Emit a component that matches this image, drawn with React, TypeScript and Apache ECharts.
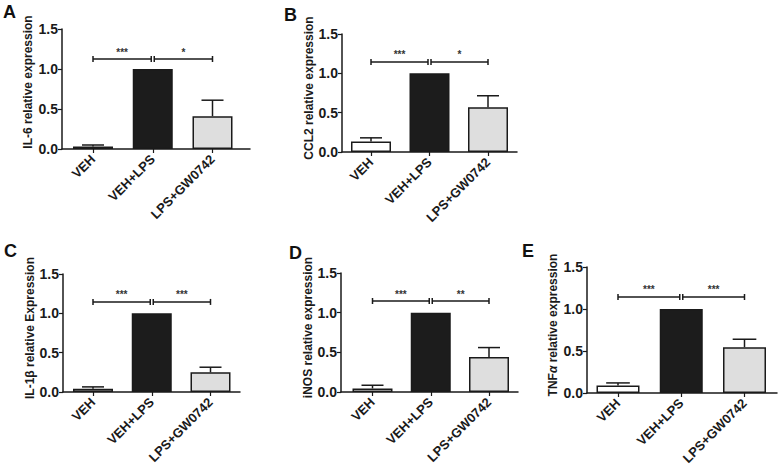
import React, { useEffect, useRef } from "react";
import * as echarts from "echarts";

// ---- data ----
const categories = ["VEH", "VEH+LPS", "LPS+GW0742"];

const il6Means = [0.03, 1.0, 0.41];
const il6Errors = [0.02, 0, 0.2];
const ccl2Means = [0.135, 1.0, 0.57];
const ccl2Errors = [0.045, 0, 0.145];
const il1bMeans = [0.04, 1.0, 0.25];
const il1bErrors = [0.025, 0, 0.065];
const inosMeans = [0.045, 1.0, 0.44];
const inosErrors = [0.04, 0, 0.12];
const tnfMeans = [0.09, 1.0, 0.545];
const tnfErrors = [0.03, 0, 0.095];

const il6Sig = ["***", "*"];
const ccl2Sig = ["***", "*"];
const il1bSig = ["***", "***"];
const inosSig = ["***", "**"];
const tnfSig = ["***", "***"];

const bracketLevels = [1.125, 1.145, 1.145, 1.147, 1.143];

const panelLetters = ["A", "B", "C", "D", "E"];
const panelTitles = [
  "IL-6 relative expression",
  "CCL2 relative expression",
  "IL-1β relative Expression",
  "iNOS relative expression",
  "TNF{i|α} relative expression",
];

const panelMeans = [il6Means, ccl2Means, il1bMeans, inosMeans, tnfMeans];
const panelErrors = [il6Errors, ccl2Errors, il1bErrors, inosErrors, tnfErrors];
const panelSig = [il6Sig, ccl2Sig, il1bSig, inosSig, tnfSig];

// ---- layout (pixels) ----
const layouts = [
  { axisX: 62, top: 29, bottom: 149, c0: 93, c2: 212.5, end: 250, barW: 40, letterX: 3, letterY: 3, nameGap: 28, namePad: 14 },
  { axisX: 342, top: 34, bottom: 152, c0: 371, c2: 488, end: 517, barW: 40, letterX: 284, letterY: 6, nameGap: 24, namePad: 10 },
  { axisX: 63, top: 274, bottom: 392, c0: 93, c2: 210.5, end: 240, barW: 40, letterX: 4, letterY: 242, nameGap: 25, namePad: 10 },
  { axisX: 341, top: 273, bottom: 392, c0: 372.5, c2: 489, end: 518, barW: 40, letterX: 289, letterY: 244, nameGap: 24, namePad: 10 },
  { axisX: 587, top: 267, bottom: 393, c0: 618, c2: 744.5, end: 777, barW: 43, letterX: 522, letterY: 242, nameGap: 28, namePad: 10 },
];

const barColors = ["#ffffff", "#1c1c1c", "#dedede"];
const FONT = "'Liberation Sans', Arial, Helvetica, sans-serif";
const INK = "#1a1a1a";

export default function App() {
  const ref = useRef<HTMLDivElement>(null);

  useEffect(() => {
    if (!ref.current) return;
    const chart = echarts.init(ref.current, undefined, { renderer: "svg" });

    const grids: any[] = [];
    const xAxes: any[] = [];
    const yAxes: any[] = [];
    const series: any[] = [];
    const graphics: any[] = [];

    layouts.forEach((L, i) => {
      const s = (L.c2 - L.c0) / 2;
      const xmin = (L.axisX - L.c0) / s;
      const xmax = (L.end - L.c0) / s;
      grids.push({ left: L.axisX, top: L.top, width: L.end - L.axisX, height: L.bottom - L.top });
      xAxes.push({
        type: "value",
        gridIndex: i,
        min: xmin,
        max: xmax,
        splitLine: { show: false },
        axisLine: { show: true, onZero: false, lineStyle: { color: INK, width: 1.5 } },
        axisTick: { show: true, customValues: [0, 1, 2], length: 4, lineStyle: { color: INK, width: 1.2 } },
        axisLabel: {
          customValues: [0, 1, 2],
          formatter: (v: number) => categories[Math.round(v)] ?? "",
          rotate: 45,
          margin: 8,
          fontFamily: FONT,
          fontWeight: "bold",
          fontSize: 13,
          color: INK,
        },
      });
      yAxes.push({
        type: "value",
        gridIndex: i,
        min: 0,
        max: 1.5,
        interval: 0.5,
        splitLine: { show: false },
        axisLine: { show: true, onZero: false, lineStyle: { color: INK, width: 1.5 } },
        axisTick: { show: true, length: 4, lineStyle: { color: INK, width: 1.2 } },
        axisLabel: {
          formatter: (v: number) => v.toFixed(1),
          margin: 4,
          fontFamily: FONT,
          fontWeight: "bold",
          fontSize: 14,
          color: INK,
        },
        name: panelTitles[i],
        nameLocation: "middle",
        nameGap: L.nameGap,
        nameTextStyle: {
          fontFamily: FONT,
          fontWeight: "bold",
          fontSize: 12,
          color: INK,
          padding: [0, 0, 0, L.namePad],
          rich: {
            i: { fontFamily: FONT, fontWeight: "bold", fontStyle: "italic", fontSize: 12, color: INK },
          },
        },
      });

      const means = panelMeans[i];
      const errs = panelErrors[i];

      series.push({
        type: "bar",
        xAxisIndex: i,
        yAxisIndex: i,
        barWidth: L.barW,
        z: 2,
        data: means.map((m, k) => ({
          value: [k, m],
          itemStyle: { color: barColors[k], borderColor: INK, borderWidth: 1.5 },
        })),
      });

      const capW = L.barW * 0.55;
      series.push({
        type: "custom",
        xAxisIndex: i,
        yAxisIndex: i,
        z: 3,
        encode: { x: 0, y: [1, 2] },
        data: means
          .map((m, k) => [k, m, m + errs[k]])
          .filter((d, k) => errs[k] > 0),
        renderItem: (params: any, api: any) => {
          const x = api.value(0);
          const lo = api.coord([x, api.value(1)]);
          const hi = api.coord([x, api.value(2)]);
          const st = { stroke: INK, lineWidth: 1.5 };
          return {
            type: "group",
            children: [
              { type: "line", shape: { x1: lo[0], y1: lo[1], x2: hi[0], y2: hi[1] }, style: st },
              { type: "line", shape: { x1: hi[0] - capW / 2, y1: hi[1], x2: hi[0] + capW / 2, y2: hi[1] }, style: st },
            ],
          };
        },
      });

      const lvl = bracketLevels[i];
      const sig = panelSig[i];
      series.push({
        type: "custom",
        xAxisIndex: i,
        yAxisIndex: i,
        z: 4,
        encode: { x: [0, 1], y: 2 },
        data: [
          [0, 1, lvl, 0],
          [1, 2, lvl, 1],
        ],
        renderItem: (params: any, api: any) => {
          const a = api.coord([api.value(0), api.value(2)]);
          const b = api.coord([api.value(1), api.value(2)]);
          const first = api.value(3) === 0;
          const x1 = first ? a[0] : a[0] + 1.5;
          const x2 = first ? b[0] - 1.5 : b[0];
          const y = a[1];
          const st = { stroke: INK, lineWidth: 1.5 };
          return {
            type: "group",
            children: [
              { type: "line", shape: { x1, y1: y, x2, y2: y }, style: st },
              { type: "line", shape: { x1, y1: y - 3, x2: x1, y2: y + 3 }, style: st },
              { type: "line", shape: { x1: x2, y1: y - 3, x2, y2: y + 3 }, style: st },
              {
                type: "text",
                x: (x1 + x2) / 2,
                y: y - 2,
                style: {
                  text: sig[first ? 0 : 1],
                  align: "center",
                  verticalAlign: "bottom",
                  fontFamily: FONT,
                  fontSize: 10,
                  fontWeight: "bold",
                  fill: "#333",
                },
              },
            ],
          };
        },
      });

      graphics.push({
        type: "text",
        left: L.letterX,
        top: L.letterY,
        style: {
          text: panelLetters[i],
          fontFamily: FONT,
          fontWeight: "bold",
          fontSize: 18,
          fill: "#111",
        },
      });
    });

    chart.setOption({
      animation: false,
      backgroundColor: "#ffffff",
      grid: grids,
      xAxis: xAxes,
      yAxis: yAxes,
      series,
      graphic: graphics,
    });

    return () => chart.dispose();
  }, []);

  return (
    <div
      ref={ref}
      style={{ position: "absolute", left: 0, top: 0, width: 778, height: 475 }}
    />
  );
}
